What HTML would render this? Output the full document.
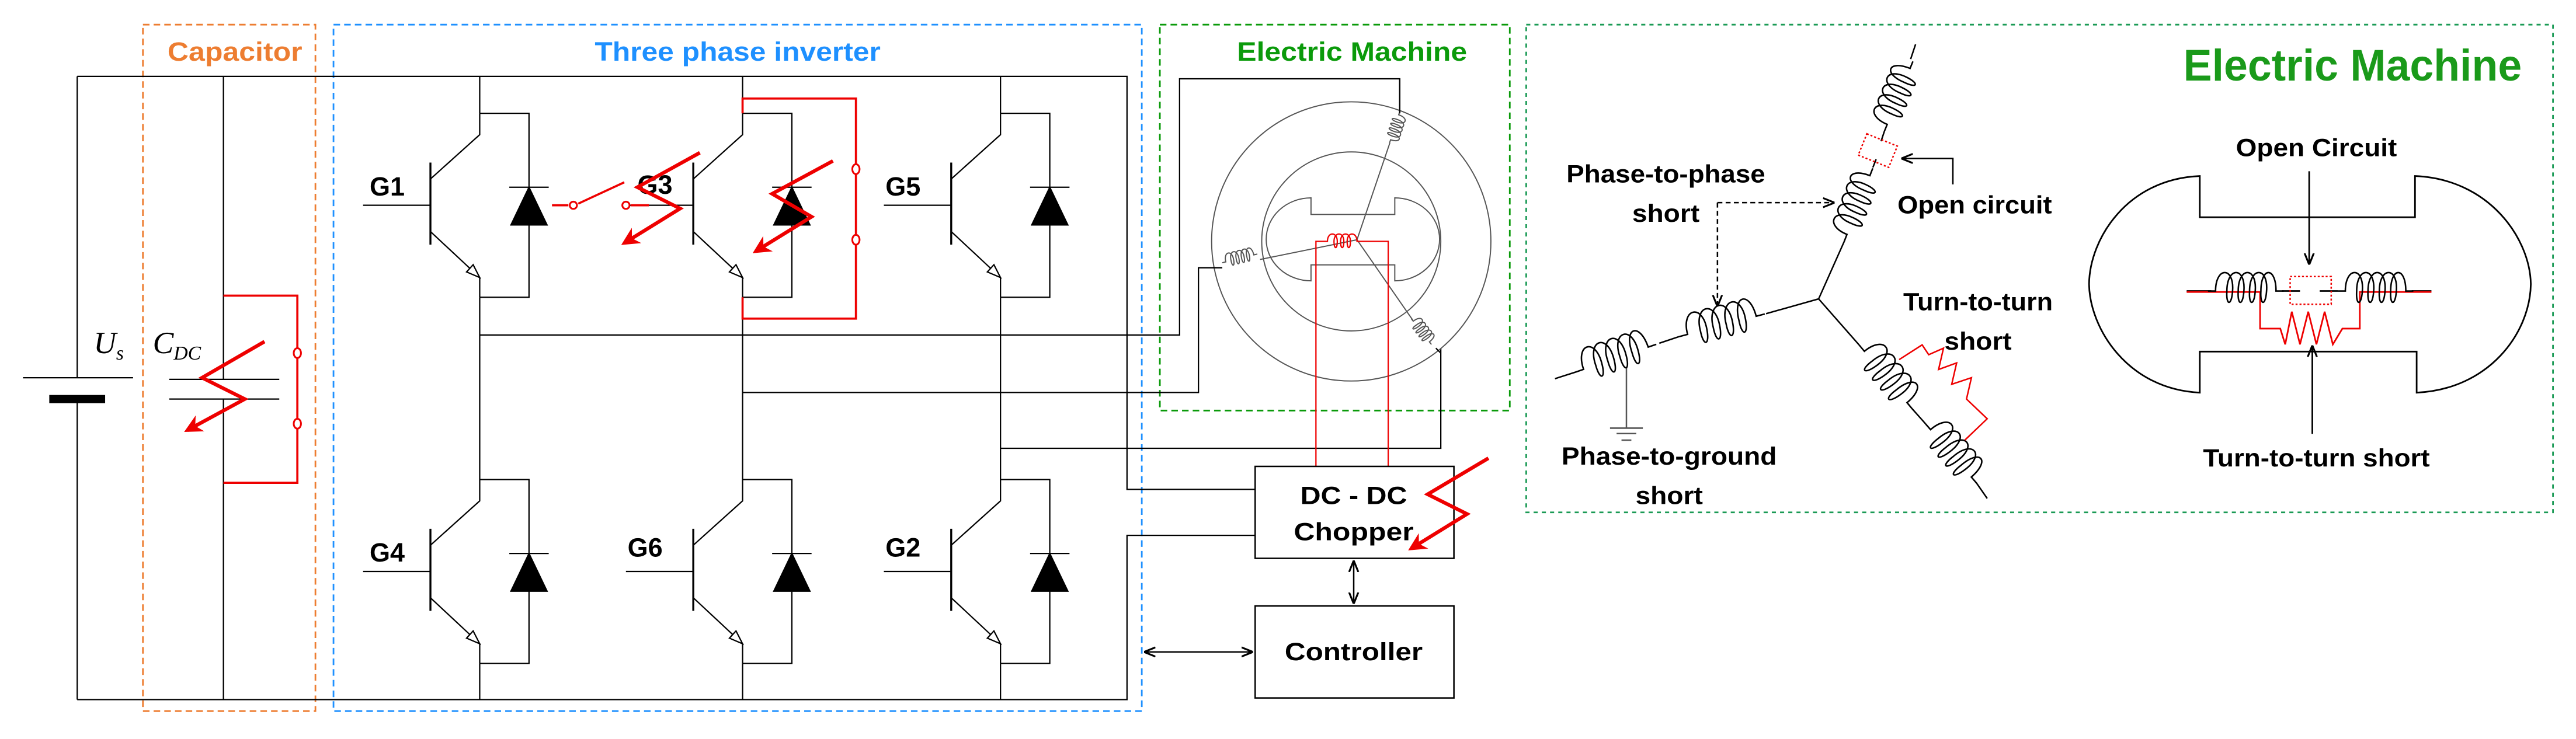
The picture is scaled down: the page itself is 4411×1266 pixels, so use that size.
<!DOCTYPE html>
<html><head><meta charset="utf-8"><style>
html,body{margin:0;padding:0;background:#fff}
svg{display:block}
text{font-family:"Liberation Sans",Arial,sans-serif;font-weight:bold}
text.ser{font-family:"Liberation Serif",serif;font-style:italic;font-weight:normal}
</style></head><body>
<svg width="4411" height="1266" viewBox="0 0 1568 450" preserveAspectRatio="none" xmlns="http://www.w3.org/2000/svg">
<defs>
<marker id="ra" markerUnits="userSpaceOnUse" viewBox="0 0 10 10" refX="8" refY="5" markerWidth="11" markerHeight="11" orient="auto"><path d="M0,0 L10,5 L0,10 L3,5 z" fill="#e00"/></marker>
<marker id="ba" markerUnits="userSpaceOnUse" viewBox="0 0 10 10" refX="9" refY="5" markerWidth="7" markerHeight="7" orient="auto"><path d="M0,1 L10,5 L0,9" fill="none" stroke="#000" stroke-width="1.6"/></marker>
<marker id="bs" markerUnits="userSpaceOnUse" viewBox="0 0 10 10" refX="1" refY="5" markerWidth="7" markerHeight="7" orient="auto"><path d="M10,1 L0,5 L10,9" fill="none" stroke="#000" stroke-width="1.6"/></marker>
<path id="coil" fill="none" stroke="#000" stroke-width="2.6" vector-effect="non-scaling-stroke" d="M0,0 h4 c0,-13 10,-13 9,0 c-0.5,8 -3.5,8 -3,0 c0,-13 10,-13 9,0 c-0.5,8 -3.5,8 -3,0 c0,-13 10,-13 9,0 c-0.5,8 -3.5,8 -3,0 c0,-13 10,-13 9,0 c-0.5,8 -3.5,8 -3,0 c0,-13 8,-13 8,0 h4"/>
<path id="coilg" fill="none" stroke="#555" stroke-width="2" vector-effect="non-scaling-stroke" d="M0,0 h4 c0,-13 10,-13 9,0 c-0.5,8 -3.5,8 -3,0 c0,-13 10,-13 9,0 c-0.5,8 -3.5,8 -3,0 c0,-13 10,-13 9,0 c-0.5,8 -3.5,8 -3,0 c0,-13 10,-13 9,0 c-0.5,8 -3.5,8 -3,0 c0,-13 8,-13 8,0 h4"/>
<g id="igbt" fill="none" stroke="#000" stroke-width="0.8">
<path d="M0,0 V13 L-30,40"/>
<path d="M-30,30 V80" stroke-width="1.2"/>
<path d="M-71,56 H-30"/>
<path d="M-30,72 L0,100 V112"/>
<polygon points="0,100 -8,96.6 -4,92.2" fill="#fff"/>
<path d="M0,0 H30 V112 H0"/>
<path d="M18,45 H42"/>
<polygon points="19,68 41,68 30,45" fill="#000"/>
</g>
</defs>

<rect x="87" y="15" width="105" height="418" fill="none" stroke="#ed7d31" stroke-width="1" stroke-dasharray="4,2.5"/>
<rect x="203" y="15" width="492" height="418" fill="none" stroke="#1e90ff" stroke-width="1" stroke-dasharray="4,2.5"/>
<rect x="706" y="15" width="213" height="235" fill="none" stroke="#0a9a0a" stroke-width="1" stroke-dasharray="4,2.5"/>
<rect x="929" y="15" width="625" height="297" fill="none" stroke="#1a9a55" stroke-width="1" stroke-dasharray="2.5,2.5"/>

<text x="143" y="37" font-size="16" fill="#ed7d31" text-anchor="middle" textLength="82" lengthAdjust="spacingAndGlyphs">Capacitor</text>
<text x="449" y="37" font-size="16" fill="#1e90ff" text-anchor="middle" textLength="174" lengthAdjust="spacingAndGlyphs">Three phase inverter</text>
<text x="823" y="37" font-size="16" fill="#0a9a0a" text-anchor="middle" textLength="140" lengthAdjust="spacingAndGlyphs">Electric Machine</text>
<text x="1432" y="49" font-size="27" fill="#1a9a1a" text-anchor="middle" textLength="206" lengthAdjust="spacingAndGlyphs">Electric Machine</text>

<g fill="none" stroke="#000" stroke-width="0.8">
<path d="M47,46.5 H686 V298 H764"/>
<path d="M47,426 H686 V326 H764"/>
<path d="M47,46.5 V230 M47,243 V426"/>
<path d="M136,46.5 V231 M136,243 V426"/>
<path d="M103,231 H170 M103,243 H170"/>
<path d="M14,230 H81"/>
<path d="M292,46.5 V69 M292,181 V292 M292,404 V426"/>
<path d="M452,46.5 V69 M452,181 V292 M452,404 V426"/>
<path d="M609,46.5 V69 M609,181 V292 M609,404 V426"/>
<path d="M292,204 H718 V48 H852 V69"/>
<path d="M452,239 H729.5 V163 H744"/>
<path d="M609,273 H877 V212"/>
</g>
<path d="M30,243 H64" stroke="#000" stroke-width="5"/>
<text class="ser" x="57" y="215" font-size="19">U<tspan font-size="12" dy="4">s</tspan></text>
<text class="ser" x="93" y="215" font-size="19">C<tspan font-size="12" dy="4">DC</tspan></text>

<use href="#igbt" transform="translate(292,69)"/>
<use href="#igbt" transform="translate(452,69)"/>
<use href="#igbt" transform="translate(609,69)"/>
<use href="#igbt" transform="translate(292,292)"/>
<use href="#igbt" transform="translate(452,292)"/>
<use href="#igbt" transform="translate(609,292)"/>
<g font-size="16">
<text x="225" y="119">G1</text><text x="388" y="118">G3</text><text x="539" y="119">G5</text>
<text x="225" y="342">G4</text><text x="382" y="339">G6</text><text x="539" y="339">G2</text>
</g>

<g fill="none" stroke="#e00" stroke-width="1.3">
<path d="M136,180 H181 V294 H136"/>
<path d="M452,69 V60 H521 V194 H452 V181"/>
<path d="M336,125 H346 M352,124 L380,111 M384,125 H395"/>
</g>
<g fill="#fff" stroke="#e00" stroke-width="1.1">
<ellipse cx="181" cy="215" rx="2.2" ry="3"/><ellipse cx="181" cy="258" rx="2.2" ry="3"/>
<ellipse cx="521" cy="103" rx="2.2" ry="3"/><ellipse cx="521" cy="146" rx="2.2" ry="3"/>
<ellipse cx="349" cy="125" rx="2.2" ry="2.2"/><ellipse cx="381" cy="125" rx="2.2" ry="2.2"/>
</g>
<g fill="none" stroke="#e00" stroke-width="2.2" marker-end="url(#ra)">
<path d="M161,208 L123,230 L149,243 L114,262"/>
<path d="M426,93 L388,114 L414,127 L380,148"/>
<path d="M507,98 L470,118 L494,132 L460,153"/>
</g>

<g fill="none" stroke="#555" stroke-width="0.7">
<circle cx="822.5" cy="147" r="85"/>
<circle cx="822.5" cy="147" r="54.5"/>
<path d="M798,120.5 V130.6 H849 V120.5 A27,25 0 0 1 849,171 V161.3 H798 V171 A27,25 0 0 1 798,120.5 Z"/>
<path d="M826,146 L846,87 M826,146 L767,158 M826,146 L860,195"/>
</g>
<use href="#coilg" transform="translate(852,68) rotate(108) scale(0.5,0.5)"/>
<use href="#coilg" transform="translate(744,160) rotate(-14) scale(0.55,0.5)"/>
<use href="#coilg" transform="translate(859,194) rotate(52) scale(0.5,0.5)"/>
<path d="M852,48 V69 M729.5,163 H744 M877,215 L874,212" stroke="#000" stroke-width="0.8" fill="none"/>
<g fill="none" stroke="#e00" stroke-width="0.8">
<path d="M801,284 V147 H808 c0,-6 6,-6 6,0 c0,5 -2,5 -2,0 c0,-6 6,-6 6,0 c0,5 -2,5 -2,0 c0,-6 6,-6 6,0 c0,5 -2,5 -2,0 c0,-6 6,-6 6,0 H845 V284"/>
</g>

<rect x="764" y="284" width="121" height="56" fill="none" stroke="#000" stroke-width="0.9"/>
<rect x="764" y="369" width="121" height="56" fill="none" stroke="#000" stroke-width="0.9"/>
<g fill="none" stroke="#e00" stroke-width="2.2" marker-end="url(#ra)"><path d="M906,279 L869,301 L893,313 L859,334"/></g>
<text x="824" y="307" font-size="15" text-anchor="middle" textLength="65" lengthAdjust="spacingAndGlyphs">DC - DC</text>
<text x="824" y="329" font-size="15" text-anchor="middle" textLength="73" lengthAdjust="spacingAndGlyphs">Chopper</text>
<text x="824" y="402" font-size="15" text-anchor="middle" textLength="84" lengthAdjust="spacingAndGlyphs">Controller</text>
<path d="M824,342 V367" stroke="#000" stroke-width="0.9" marker-end="url(#ba)" marker-start="url(#bs)"/>
<path d="M697,397 H762" stroke="#000" stroke-width="0.9" marker-end="url(#ba)" marker-start="url(#bs)"/>

<g fill="none" stroke="#000" stroke-width="0.9">
<path d="M946.5,230.6 L959,226.6 M1010,209 L1022,205 M1075,191 L1107,182 L1122.5,147.2 M1107,182 L1131.6,210 M1164,249 L1172,258 M1203,294 L1209.6,303.5"/>
<path d="M1140,102 L1142,97 M1145,86 L1147,80 M1163,36 L1166,27"/>
<path d="M990,223.4 V260.7" stroke="#555"/>
<path d="M980,260.7 H1000 M984,264 H996 M987,268 H993" stroke="#555"/>
</g>
<use href="#coil" transform="translate(959,226.6) rotate(-19) scale(1.3,1.25)"/>
<use href="#coil" transform="translate(1022,205) rotate(-14.8) scale(1.35,1.25)"/>
<use href="#coil" transform="translate(1122.5,147.2) rotate(-68.7) scale(1.2,1.1)"/>
<use href="#coil" transform="translate(1147,80) rotate(-67.8) scale(1.15,1.1)"/>
<use href="#coil" transform="translate(1131.6,210) rotate(50.3) scale(1.27,1.2)"/>
<use href="#coil" transform="translate(1172,258) rotate(49.3) scale(1.19,1.2)"/>
<rect x="-10" y="-7" width="20" height="14" transform="translate(1143,91.7) rotate(22)" fill="none" stroke="#e00" stroke-width="0.9" stroke-dasharray="1.2,1.2"/>
<path d="M1156,219 L1170,210 L1174,216 L1183,212 L1180,225 L1191,221 L1188,234 L1200,230 L1197,243 L1209.6,255 L1196,268" fill="none" stroke="#e00" stroke-width="0.9"/>
<path d="M1045.4,123.4 V186" fill="none" stroke="#000" stroke-width="0.9" stroke-dasharray="3,2" marker-end="url(#ba)"/>
<path d="M1045.4,123.4 H1116" fill="none" stroke="#000" stroke-width="0.9" stroke-dasharray="3,2" marker-end="url(#ba)"/>
<path d="M1188.7,112.3 V96.5 H1158" fill="none" stroke="#000" stroke-width="0.9" marker-end="url(#ba)"/>
<g font-size="15" text-anchor="middle">
<text x="1014" y="111" textLength="121" lengthAdjust="spacingAndGlyphs">Phase-to-phase</text>
<text x="1014" y="135" textLength="41" lengthAdjust="spacingAndGlyphs">short</text>
<text x="1202" y="130" textLength="94" lengthAdjust="spacingAndGlyphs">Open circuit</text>
<text x="1204" y="189" textLength="91" lengthAdjust="spacingAndGlyphs">Turn-to-turn</text>
<text x="1204" y="213" textLength="41" lengthAdjust="spacingAndGlyphs">short</text>
<text x="1016" y="283" textLength="131" lengthAdjust="spacingAndGlyphs">Phase-to-ground</text>
<text x="1016" y="307" textLength="41" lengthAdjust="spacingAndGlyphs">short</text>
<text x="1410" y="95" textLength="98" lengthAdjust="spacingAndGlyphs">Open Circuit</text>
<text x="1410" y="284" textLength="138" lengthAdjust="spacingAndGlyphs">Turn-to-turn short</text>
</g>

<g fill="none" stroke="#000" stroke-width="1">
<path d="M1339,107.2 V132.3 H1470 V107.2 C1515,109 1540,145 1540.5,173 C1540,203 1515,237 1471,239.1 V214.1 H1339 V239.1 C1295,237 1272,200 1271.6,173 C1272,145 1295,109 1339,107.2 Z"/>
<path d="M1331,177.2 H1346 M1389,177.2 H1400 M1412,177.2 H1423 M1468,177.2 H1480"/>
<path d="M1405.6,104.3 V160.5" marker-end="url(#ba)"/>
<path d="M1407.5,264.2 V211" marker-end="url(#ba)"/>
</g>
<g fill="none" stroke="#e00" stroke-width="1">
<path d="M1331,177.8 H1375.7 V200.1 H1388 L1391,209.7 L1395,189.8 L1400,209.7 L1405,189.8 L1410,209.7 L1415,189.8 L1420,209.7 L1425.8,200.1 H1436.4 V177.8 H1480"/>
<rect x="1394" y="168.4" width="25" height="16.9" stroke-dasharray="1.2,1.2" stroke-width="0.9"/>
</g>
<use href="#coil" transform="translate(1344,177.2) scale(1.15,1.15)"/>
<use href="#coil" transform="translate(1423,177.2) scale(1.15,1.15)"/>
</svg>
</body></html>
